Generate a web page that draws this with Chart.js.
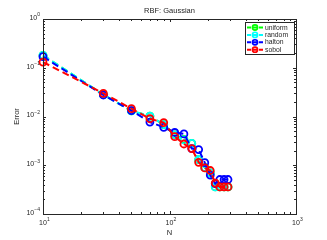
<!DOCTYPE html>
<html><head><meta charset="utf-8">
<script src="https://cdn.jsdelivr.net/npm/chart.js@4"></script>
<style>html,body{margin:0;padding:0;background:#fff}#wrap{width:327px;height:240px}</style>
</head><body><div id="wrap"><canvas id="c" width="327" height="240"></canvas></div>
<script>
const N = [10,30,50,70,90,110,130,150,170,190,210,230,250,270,290];
const uniform = [0.18,0.028,0.013,0.0102,0.0068,0.0042,0.0034,0.0028,0.0013,0.0009,0.0007,0.00036,0.00036,0.00036,0.00036];
const random  = [0.18,0.028,0.013,0.0102,0.0068,0.0042,0.0033,0.0028,0.0013,0.0009,0.0007,0.00036,0.00036,0.00036,0.00036];
const halton  = [0.169,0.0276,0.0132,0.0077,0.006,0.0047,0.0044,0.0022,0.0021,0.00113,0.00063,0.00042,0.00051,0.00051,0.00051];
const sobol   = [0.131,0.0299,0.0145,0.009,0.0075,0.00386,0.00273,0.0022,0.00115,0.00088,0.00078,0.00043,0.00036,0.00036,0.00036];
const seriesNames = ['uniform','random','halton','sobol'];
const seriesColors = ['#00ff00','#00ffff','#0000ff','#ff0000'];
const xTickExp = [1,2,3];
const yTickExp = [0,-1,-2,-3,-4];
const titleText = 'RBF: Gaussian';
const xLabel = 'N';
const yLabel = 'Error';

const allSeries = [uniform, random, halton, sobol];
const datasets = allSeries.map((vals, i) => ({
  label: seriesNames[i],
  data: N.map((n, j) => ({x: n, y: vals[j]})),
  borderColor: seriesColors[i],
  backgroundColor: 'rgba(0,0,0,0)',
  borderWidth: 2,
  borderDash: [7,4],
  pointRadius: 3.5,
  pointBorderWidth: 1.8,
  pointBorderColor: seriesColors[i],
  pointBackgroundColor: 'rgba(0,0,0,0)',
  tension: 0,
  clip: false,
  order: 3 - i
}));

const FONT = '"Liberation Sans", Arial, sans-serif';
const AX = '#262626';

function drawPow(ctx, x, y, exp, align, size) {
  const base = '10', e = String(exp).replace('-', '\u2212');
  ctx.font = size + 'px ' + FONT;
  const wb = ctx.measureText(base).width;
  ctx.font = (size * 0.72) + 'px ' + FONT;
  const we = ctx.measureText(e).width;
  let x0;
  if (align === 'center') x0 = x - wb / 2;
  else x0 = x - wb - we;
  ctx.textAlign = 'left';
  ctx.textBaseline = 'middle';
  ctx.font = size + 'px ' + FONT;
  ctx.fillText(base, x0, y);
  ctx.font = (size * 0.72) + 'px ' + FONT;
  ctx.fillText(e, x0 + wb, y - size * 0.42);
}

const framePlugin = {
  id: 'frame',
  afterDatasetsDraw(chart) {
    const ctx = chart.ctx, a = chart.chartArea;
    const xs = chart.scales.x, ys = chart.scales.y;
    ctx.save();
    ctx.strokeStyle = AX;
    ctx.lineWidth = 1;
    ctx.strokeRect(Math.round(a.left) + 0.5, Math.round(a.top) + 0.5, Math.round(a.right - a.left), Math.round(a.bottom - a.top));
    ctx.beginPath();
    for (let k = 1; k <= 3; k++) {
      for (let m = 1; m <= 9; m++) {
        const v = m * Math.pow(10, k);
        if (v > 1000) break;
        const px = Math.round(xs.getPixelForValue(v)) + 0.5;
        const len = m === 1 ? 3 : 2;
        ctx.moveTo(px, a.bottom); ctx.lineTo(px, a.bottom - len);
        ctx.moveTo(px, a.top); ctx.lineTo(px, a.top + len);
      }
    }
    for (let k = -4; k <= 0; k++) {
      for (let m = 1; m <= 9; m++) {
        const v = m * Math.pow(10, k);
        if (v > 1) break;
        const py = Math.round(ys.getPixelForValue(v)) + 0.5;
        const len = m === 1 ? 3 : 2;
        ctx.moveTo(a.left, py); ctx.lineTo(a.left + len, py);
        ctx.moveTo(a.right, py); ctx.lineTo(a.right - len, py);
      }
    }
    ctx.stroke();
    ctx.fillStyle = AX;
    xTickExp.forEach(k => {
      drawPow(ctx, xs.getPixelForValue(Math.pow(10, k)), a.bottom + 9, k, 'center', 7);
    });
    yTickExp.forEach(k => {
      drawPow(ctx, a.left - 3, ys.getPixelForValue(Math.pow(10, k)) - 1, k, 'right', 7);
    });
    ctx.textAlign = 'center';
    ctx.textBaseline = 'middle';
    ctx.font = '7.5px ' + FONT;
    ctx.fillText(xLabel, (a.left + a.right) / 2, 233);
    ctx.fillText(titleText, (a.left + a.right) / 2, 11);
    ctx.save();
    ctx.translate(17, (a.top + a.bottom) / 2);
    ctx.rotate(-Math.PI / 2);
    ctx.fillText(yLabel, 0, 0);
    ctx.restore();
    // legend
    const lx = 245, ly = 22, lw = 49, lh = 32;
    ctx.fillStyle = '#fff';
    ctx.fillRect(lx, ly, lw, lh);
    ctx.strokeStyle = AX;
    ctx.lineWidth = 1;
    ctx.strokeRect(lx + 0.5, ly + 0.5, lw, lh);
    seriesNames.forEach((nm, i) => {
      const y = ly + 5.5 + i * 7.4;
      ctx.strokeStyle = seriesColors[i];
      ctx.lineWidth = 2;
      ctx.setLineDash([4, 2]);
      ctx.beginPath(); ctx.moveTo(lx + 2, y); ctx.lineTo(lx + 18, y); ctx.stroke();
      ctx.setLineDash([]);
      ctx.lineWidth = 1.6;
      ctx.beginPath(); ctx.arc(lx + 10, y, 2.6, 0, Math.PI * 2); ctx.stroke();
      ctx.fillStyle = AX;
      ctx.font = '6.8px ' + FONT;
      ctx.textAlign = 'left';
      ctx.fillText(nm, lx + 20, y + 0.3);
    });
    ctx.restore();
  }
};

new Chart(document.getElementById('c'), {
  type: 'line',
  data: { datasets },
  options: {
    responsive: false,
    animation: false,
    layout: { padding: { left: 43, right: 31, top: 19, bottom: 26 } },
    plugins: { legend: { display: false }, tooltip: { enabled: false }, title: { display: false } },
    scales: {
      x: { type: 'logarithmic', min: 10, max: 1000, display: false },
      y: { type: 'logarithmic', min: 1e-4, max: 1, display: false }
    }
  },
  plugins: [framePlugin]
});
</script>
</body></html>
